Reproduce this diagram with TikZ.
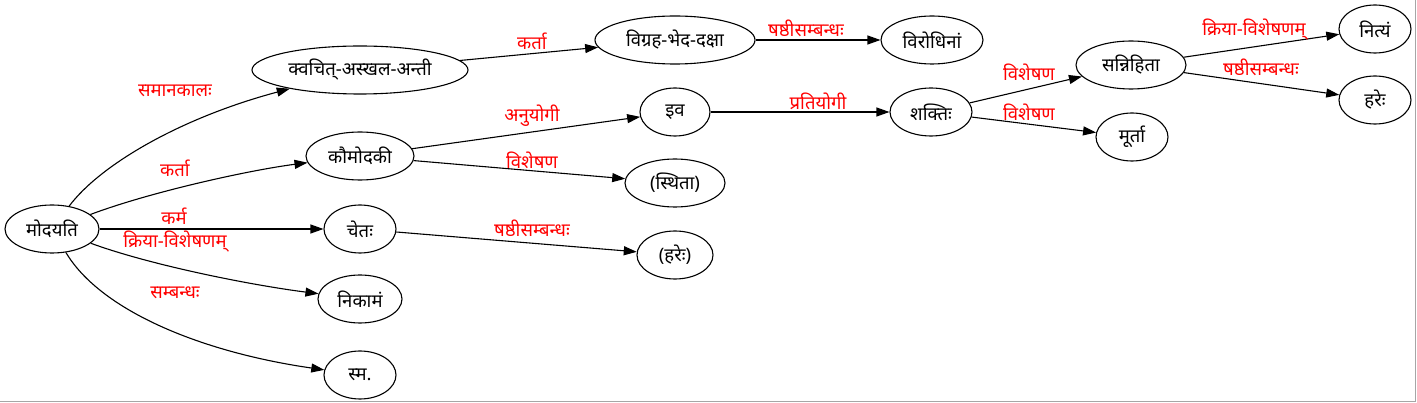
\documentclass[tikz,border=0pt]{standalone}
\usepackage{fontspec}
\setmainfont[Script=Devanagari]{Noto Sans}
\usetikzlibrary{shapes.geometric,arrows.meta}
\begin{document}
\begin{tikzpicture}[x=1pt,y=-1pt,
  nd/.style={draw,ellipse,inner sep=0pt,minimum height=48pt,font=\fontsize{18.5}{21}\selectfont,line width=1.1pt},
  lb/.style={text=red,font=\fontsize{18.5}{21}\selectfont,inner sep=0pt},
  ed/.style={line width=1.1pt,-{Triangle[length=13pt,width=9pt]}}]
\useasboundingbox (0,0) rectangle (1417,403);
\fill[white] (0,0) rectangle (1417,403);
\draw[gray!70,line width=1pt] (0,401.5) -- (1415.5,401.5) -- (1415.5,0);
% nodes
\node[nd,minimum width=94pt] (mod) at (52,229) {मोदयति};
\node[nd,minimum width=216pt] (kva) at (360,70) {क्वचित्-अस्खल-अन्ती};
\node[nd,minimum width=108pt] (kau) at (360,156) {कौमोदकी};
\node[nd,minimum width=72pt] (cet) at (360,229) {चेतः};
\node[nd,minimum width=84pt] (nik) at (360,299) {निकामं};
\node[nd,minimum width=72pt] (sma) at (360,375) {स्म.};
\node[nd,minimum width=160pt] (vig) at (675,40) {विग्रह-भेद-दक्षा};
\node[nd,minimum width=102pt] (vir) at (932,40) {विरोधिनां};
\node[nd,minimum width=70pt] (iva) at (675,112) {इव};
\node[nd,minimum width=100pt] (sth) at (675,183) {(स्थिता)};
\node[nd,minimum width=76pt] (har1) at (675,255) {(हरेः)};
\node[nd,minimum width=82pt] (sak) at (931,112) {शक्तिः};
\node[nd,minimum width=110pt] (san) at (1131,65) {सन्निहिता};
\node[nd,minimum width=72pt] (mur) at (1132,137) {मूर्ता};
\node[nd,minimum width=72pt] (nit) at (1375,29) {नित्यं};
\node[nd,minimum width=72pt] (har2) at (1375,100) {हरेः};
% edges
\draw[ed] (mod) .. controls (100,165) and (180,118) .. (kva);
\draw[ed] (mod) .. controls (150,192) and (250,170) .. (kau);
\draw[ed] (mod) -- (cet);
\draw[ed] (mod) .. controls (150,265) and (250,285) .. (nik);
\draw[ed] (mod) .. controls (100,310) and (200,352) .. (sma);
\draw[ed] (kva) -- (vig);
\draw[ed] (kau) -- (iva);
\draw[ed] (kau) -- (sth);
\draw[ed] (cet) -- (har1);
\draw[ed] (vig) -- (vir);
\draw[ed] (iva) -- (sak);
\draw[ed] (sak) -- (san);
\draw[ed] (sak) -- (mur);
\draw[ed] (san) -- (nit);
\draw[ed] (san) -- (har2);
% labels
\node[lb] (l1) at (175,91) {समानकालः};
\node[lb] (l2) at (175,168) {कर्ता};
\node[lb] (l3) at (174,216) {कर्म};
\node[lb] (l4) at (175,242) {क्रिया-विशेषणम्};
\node[lb] (l5) at (175,293) {सम्बन्धः};
\node[lb] (l6) at (532,41) {कर्ता};
\node[lb] (l7) at (532,116) {अनुयोगी};
\node[lb] (l8) at (532,160) {विशेषण};
\node[lb] (l9) at (532,228) {षष्ठीसम्बन्धः};
\node[lb] (l10) at (806,28) {षष्ठीसम्बन्धः};
\node[lb] (l11) at (818,101) {प्रतियोगी};
\node[lb] (l12) at (1029,72) {विशेषण};
\node[lb] (l13) at (1029,112) {विशेषण};
\node[lb] (l14) at (1254,30) {क्रिया-विशेषणम्};
\node[lb] (l15) at (1261,67) {षष्ठीसम्बन्धः};
\end{tikzpicture}
\end{document}
